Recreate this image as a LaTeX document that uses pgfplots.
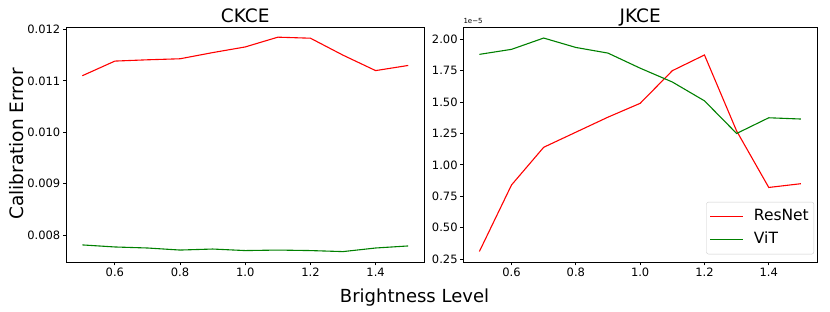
\documentclass[border=0pt]{standalone}
\usepackage{fontspec}
\setmainfont{DejaVu Sans}
\usepackage{pgfplots}
\pgfplotsset{compat=1.18}
\definecolor{mplgreen}{HTML}{008000}
\pgfplotsset{
  mystyle/.style={
    scale only axis, anchor=south west,
    height=235.3pt,
    axis line style={line width=0.8pt, black},
    tick style={line width=0.8pt, black},
    tick align=outside, major tick length=3pt,
    xtick pos=bottom, ytick pos=left,
    ticklabel style={font=\fontsize{11.5}{13}\selectfont, inner sep=0pt},
    xticklabel style={yshift=-2.4pt},
    yticklabel style={xshift=-2.5pt},
    /pgf/number format/assume math mode=true,
    xmin=0.45, xmax=1.55,
    xtick={0.6,0.8,1.0,1.2,1.4},
    xticklabel style={/pgf/number format/.cd, fixed, fixed zerofill, precision=1},
    scaled ticks=false,
    every axis title/.style={at={(0.5,1)}, anchor=base, yshift=4.3pt, inner sep=0pt, font=\fontsize{18.5}{20}\selectfont},
    every axis plot/.append style={line width=1.1pt},
  }
}
\begin{document}
\begin{tikzpicture}[x=1pt,y=1pt]
\path[use as bounding box] (0,0) rectangle (830,312);

\begin{axis}[mystyle, at={(66pt,49.7pt)}, width=358.5pt,
  title={CKCE},
  ymin=0.007472, ymax=0.012048,
  ytick={0.008,0.009,0.010,0.011,0.012},
  yticklabel style={/pgf/number format/.cd, fixed, fixed zerofill, precision=3},
]
\addplot[red] coordinates {
(0.5,0.01110) (0.6,0.011385) (0.7,0.01141) (0.8,0.01143) (0.9,0.01155)
(1.0,0.01166) (1.1,0.01185) (1.2,0.01183) (1.3,0.01150) (1.4,0.01120) (1.5,0.01130)};
\addplot[mplgreen] coordinates {
(0.5,0.00781) (0.6,0.00777) (0.7,0.00775) (0.8,0.00771) (0.9,0.00773)
(1.0,0.00770) (1.1,0.00771) (1.2,0.00770) (1.3,0.00768) (1.4,0.00775) (1.5,0.00779)};
\end{axis}

\begin{axis}[mystyle, at={(463.3pt,49.7pt)}, width=353.7pt,
  title={JKCE},
  ymin=0.224, ymax=2.098,
  ytick={0.25,0.50,0.75,1.00,1.25,1.50,1.75,2.00},
  yticklabel style={/pgf/number format/.cd, fixed, fixed zerofill, precision=2},
  legend style={at={(1,0)}, anchor=south east, xshift=-3pt, yshift=8pt,
    draw=black!20, rounded corners=2pt, fill=white,
    font=\fontsize{15.5}{17}\selectfont, inner xsep=3pt, inner ysep=5pt,
    nodes={inner sep=2pt, text height=11.5pt, text depth=3.5pt},
    row sep=4pt,
    /tikz/every odd column/.append style={column sep=8.3pt}},
  legend cell align=left,
  legend image code/.code={\draw[#1] (0pt,0pt) -- (33pt,0pt);},
]
\addplot[red] coordinates {
(0.5,0.31) (0.6,0.84) (0.7,1.14) (0.8,1.26) (0.9,1.38)
(1.0,1.49) (1.1,1.75) (1.2,1.875) (1.3,1.27) (1.4,0.82) (1.5,0.85)};
\addlegendentry{ResNet}
\addplot[mplgreen] coordinates {
(0.5,1.88) (0.6,1.92) (0.7,2.01) (0.8,1.935) (0.9,1.89)
(1.0,1.77) (1.1,1.66) (1.2,1.51) (1.3,1.25) (1.4,1.375) (1.5,1.365)};
\addlegendentry{ViT}
\end{axis}

\node[anchor=base west, inner sep=0pt, font=\fontsize{7}{8}\selectfont] at (463.3,288) {1e−5};
\node[anchor=base, inner sep=0pt, rotate=90, font=\fontsize{18.5}{20}\selectfont] at (23.3,168) {Calibration Error};
\node[anchor=base, inner sep=0pt, font=\fontsize{18}{20}\selectfont] at (414.5,9) {Brightness Level};
\end{tikzpicture}
\end{document}
